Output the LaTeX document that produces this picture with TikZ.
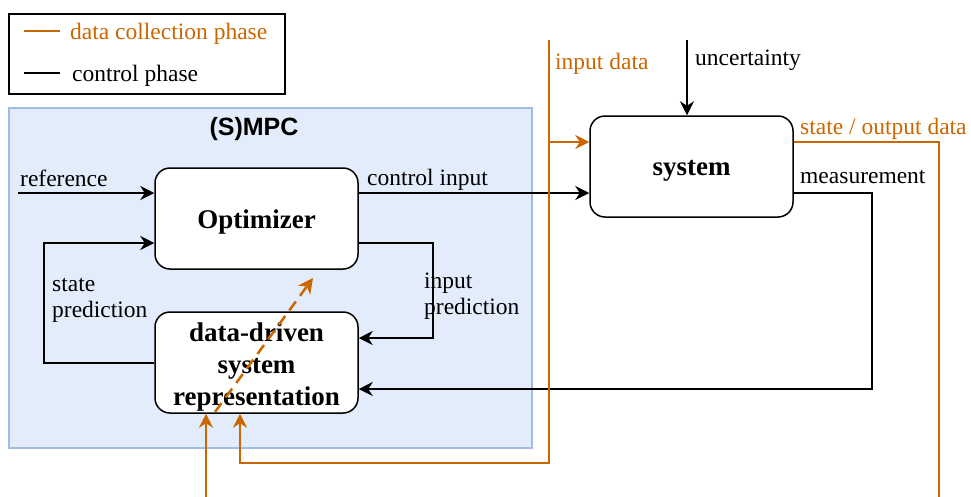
\documentclass[tikz,border=0pt]{standalone}
\usepackage{fontspec}
\setmainfont{Liberation Serif}
\setsansfont{Liberation Sans}
\usetikzlibrary{arrows.meta}
\definecolor{dataor}{HTML}{CC6600}
\definecolor{mpcfill}{HTML}{E2ECFB}
\definecolor{mpcline}{HTML}{A0BCE4}
\tikzset{
  txt/.style={font=\fontsize{23.5}{26}\selectfont, inner sep=0pt},
  otxt/.style={txt, text=dataor},
  blockbox/.style={draw=black, line width=1.5pt, rounded corners=15pt, fill=white,
    minimum width=203pt, minimum height=101pt, inner sep=0pt},
  blocktxt/.style={align=center, font=\fontsize{27}{32}\selectfont\bfseries, inner sep=0pt},
  arr/.style={draw=black, line width=1.5pt, -{Stealth[length=14pt, width=14pt, inset=4.5pt]}},
  oarr/.style={draw=dataor, line width=1.5pt, -{Stealth[length=14pt, width=14pt, inset=4.5pt]}},
  oline/.style={draw=dataor, line width=1.5pt},
}
\begin{document}
\begin{tikzpicture}[x=1pt, y=-1pt]
\useasboundingbox (0,0) rectangle (971,496);

% legend
\node[draw=black, line width=1.5pt, minimum width=276pt, minimum height=80pt, inner sep=0pt] (leg) at (147,54) {};
\coordinate (l1a) at (24,31);
\coordinate (l1b) at (60,31);
\coordinate (l2a) at (24,73);
\coordinate (l2b) at (60,73);
\draw[dataor, line width=2.5pt] (l1a) -- (l1b);
\draw[black, line width=2.5pt] (l2a) -- (l2b);
\node[otxt, anchor=base west] (legt1) at (70,39) {data collection phase};
\node[txt, anchor=base west] (legt2) at (72,81) {control phase};

% MPC area
\node[draw=mpcline, fill=mpcfill, line width=1.5pt, minimum width=523pt, minimum height=340pt, inner sep=0pt] (mpc) at (270.5,278) {};
\node[font=\fontsize{25}{30}\selectfont\sffamily\bfseries, inner sep=0pt] (mpct) at (254,129) {(S)MPC};

% blocks
\node[blockbox] (opt) at (256.5,218.5) {};
\node[blocktxt, yshift=-4pt] (optt) at (opt.center) {Optimizer};
\node[blockbox] (dd) at (256.5,362.5) {};
\node[blocktxt, yshift=-4pt] (ddt) at (dd.center) {data-driven\\system\\representation};
\node[blockbox] (sys) at (691.5,166.5) {};
\node[blocktxt, yshift=-4pt] (syst) at (sys.center) {system};

% reference
\coordinate (ref) at (18,193);
\draw[arr] (ref) -- (ref -| opt.west);
\node[txt, anchor=base west] (reft) at (20,186) {reference};

% control input
\draw[arr] (ref -| opt.east) -- (ref -| sys.west);
\node[txt, anchor=base west] (cit) at (367,185) {control input};

% state prediction
\coordinate (sp1) at (44,363);
\coordinate (sp2) at (44,243);
\draw[arr] (sp1 -| dd.west) -- (sp1) -- (sp2) -- (sp2 -| opt.west);
\node[txt, anchor=base west, align=left] (spt) at (52,317) {state\\prediction};

% input prediction
\coordinate (ip1) at (433,243);
\coordinate (ip2) at (433,338);
\draw[arr] (ip1 -| opt.east) -- (ip1) -- (ip2) -- (ip2 -| dd.east);
\node[txt, anchor=base west, align=left] (ipt) at (424,314) {input\\prediction};

% measurement
\coordinate (m1) at (872,193);
\coordinate (m2) at (872,389);
\draw[arr] (m1 -| sys.east) -- (m1) -- (m2) -- (m2 -| dd.east);
\node[txt, anchor=base west] (mt) at (800,183) {measurement};

% uncertainty
\coordinate (unc) at (687,40);
\draw[arr] (unc) -- (unc |- sys.north);
\node[txt, anchor=base west] (unct) at (695,65) {uncertainty};

% input data (orange)
\coordinate (id0) at (549,40);
\coordinate (id1) at (549,463);
\coordinate (id2) at (240,463);
\coordinate (id3) at (549,142);
\draw[oarr] (id0) -- (id1) -- (id2) -- (id2 |- dd.south);
\draw[oarr] (id3) -- (id3 -| sys.west);
\node[otxt, anchor=base west] (idt) at (555,69) {input data};

% state / output data (orange)
\coordinate (so1) at (939,142);
\coordinate (so2) at (939,497);
\draw[oline] (so1 -| sys.east) -- (so1) -- (so2);
\node[otxt, anchor=base west] (sot) at (800,134) {state / output data};

\coordinate (in0) at (206,497);
\draw[oarr] (in0) -- (in0 |- dd.south);

% dashed learning arrow
\coordinate (d0) at (215,412);
\coordinate (d1) at (313,278);
\draw[dataor, line width=2.5pt, dash pattern=on 11pt off 7pt, -{Stealth[length=15pt, width=15pt, inset=4.5pt]}] (d0) -- (d1);
\end{tikzpicture}
\end{document}
